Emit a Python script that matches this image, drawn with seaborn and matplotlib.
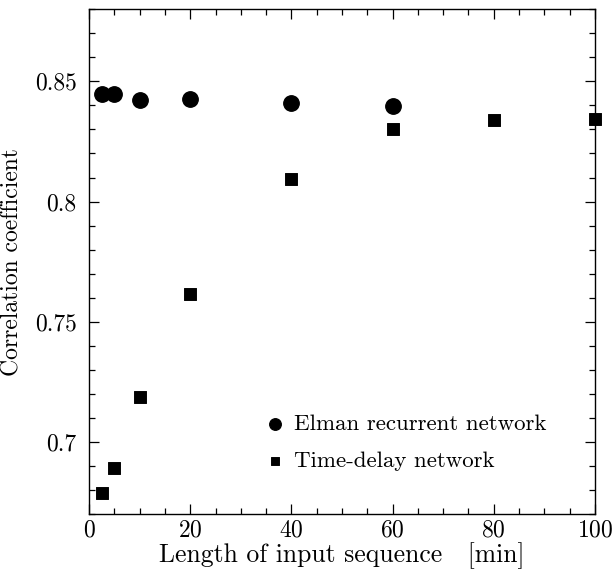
import matplotlib
matplotlib.use('Agg')
import matplotlib.pyplot as plt
import seaborn as sns
import pandas as pd
from matplotlib.ticker import MultipleLocator, FormatStrFormatter

# data
elman_len = [2.5, 5, 10, 20, 40, 60]
elman_corr = [0.8448, 0.8446, 0.8423, 0.8427, 0.8409, 0.8398]
tdnn_len = [2.5, 5, 10, 20, 40, 60, 80, 100]
tdnn_corr = [0.6787, 0.6893, 0.7189, 0.7615, 0.8095, 0.8303, 0.8338, 0.8344]

elman = pd.DataFrame({'Length': elman_len, 'Corr': elman_corr})
tdnn = pd.DataFrame({'Length': tdnn_len, 'Corr': tdnn_corr})

sns.set_style('ticks')
plt.rcParams['font.family'] = ['cmr10', 'DejaVu Serif']
plt.rcParams['axes.formatter.use_mathtext'] = True
plt.rcParams['text.color'] = 'black'
plt.rcParams['axes.labelcolor'] = 'black'

fig = plt.figure(figsize=(6.14, 5.72), dpi=100)
ax = fig.add_axes([0.145, 0.101, 0.824, 0.883])

sns.scatterplot(data=elman, x='Length', y='Corr', marker='o', s=125,
                color='black', edgecolor='black', label='Elman recurrent network',
                clip_on=False, zorder=3, ax=ax)
sns.scatterplot(data=tdnn, x='Length', y='Corr', marker='s', s=70,
                color='black', edgecolor='black', label='Time-delay network',
                clip_on=False, zorder=3, ax=ax)

ax.set_xlim(0, 100)
ax.set_ylim(0.67, 0.88)
ax.xaxis.set_major_locator(MultipleLocator(20))
ax.xaxis.set_minor_locator(MultipleLocator(5))
ax.yaxis.set_major_locator(MultipleLocator(0.05))
ax.yaxis.set_minor_locator(MultipleLocator(0.01))
ax.yaxis.set_major_formatter(FormatStrFormatter('%g'))
ax.tick_params(which='both', direction='in', top=True, right=True, colors='black',
               labelsize=17, width=0.9)
ax.tick_params(which='major', length=7)
ax.tick_params(which='minor', length=4)
ax.tick_params(axis='y', which='major', pad=9)
ax.tick_params(axis='x', which='major', pad=4)
for sp in ax.spines.values():
    sp.set_visible(True)
    sp.set_linewidth(1.0)
    sp.set_color('black')

ax.set_xlabel('Length of input sequence   [min]', fontsize=18.5, labelpad=0)
ax.set_ylabel('Correlation coefficient', fontsize=17, labelpad=8)

leg = ax.legend(loc='lower left', bbox_to_anchor=(0.305, 0.045), frameon=False,
                fontsize=16.5, markerscale=0.75, handletextpad=0.3, labelspacing=0.75,
                handlelength=1.0)
for t in leg.get_texts():
    t.set_color('black')

fig.savefig('out.png', dpi=100)
